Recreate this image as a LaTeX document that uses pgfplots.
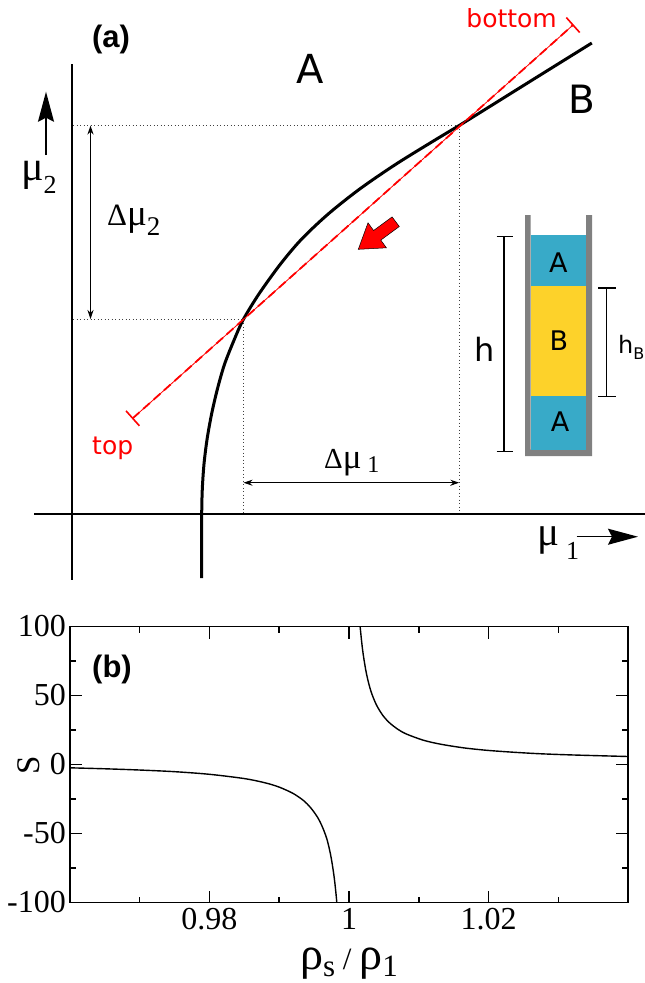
\documentclass[border=0pt]{standalone}
\usepackage{fontspec}
\setmainfont{Liberation Serif}
\newfontfamily\djv{DejaVu Sans}
\newfontfamily\ars{Liberation Sans}
\usepackage{pgfplots}
\pgfplotsset{compat=1.18}
\usetikzlibrary{arrows.meta}
\definecolor{boxcyan}{RGB}{56,170,200}
\definecolor{boxyellow}{RGB}{253,210,42}
\definecolor{wallgray}{RGB}{128,128,128}
\newcommand{\fs}[1]{\fontsize{#1}{#1}\selectfont}
\begin{document}
\begin{tikzpicture}
\useasboundingbox (0,0) rectangle (645pt,-983pt);
% ---------------- panel (a): schematic in pixel coordinates ----------------
\begin{axis}[at={(0pt,0pt)}, anchor=north west, scale only axis,
  width=645pt, height=600pt, xmin=0, xmax=645, ymin=0, ymax=600,
  y dir=reverse, hide axis, clip=false]
% axes
\addplot[black, line width=2pt] coordinates {(71.7,64) (71.7,580)};
\addplot[black, line width=2pt] coordinates {(34,514) (645,514)};
% dotted guides
\addplot[black!75, line width=0.9pt, dash pattern=on 1pt off 2.5pt] coordinates {(73,125) (460,125)};
\addplot[black!75, line width=0.9pt, dash pattern=on 1pt off 2.5pt] coordinates {(73,319.5) (243.3,319.5)};
\addplot[black!75, line width=0.9pt, dash pattern=on 1pt off 2.5pt] coordinates {(243,319.5) (243,513)};
\addplot[black!75, line width=0.9pt, dash pattern=on 1pt off 2.5pt] coordinates {(459.5,125) (459.5,513)};
% coexistence curve
\addplot[black, line width=3pt, smooth] coordinates {
(201.7,578) (201.7,545) (201.7,514) (202.3,489) (204.0,464) (207.1,439) (211.6,414)
(217.4,389) (224.6,364) (234.5,339) (243.3,319.5) (258.9,294) (280.5,264)
(301.7,239) (328.2,214) (359.7,189) (396.2,164) (436.7,139) (460,125)
(493.8,104) (535,78.3) (591.8,43)};
% red sedimentation path
\addplot[red, line width=0.8pt] coordinates {(132.7,418.3) (573,25)};
\addplot[red, line width=1.8pt, dash pattern=on 9pt off 5pt] coordinates {(132.7,418.3) (573,25)};
\addplot[red, line width=1.6pt] coordinates {(126,410.8) (139.4,425.8)};
\addplot[red, line width=1.6pt] coordinates {(566.3,17.5) (579.7,32.5)};
% red block arrow
\addplot[fill=red, draw=black, line width=0.5pt] coordinates {
(399.3,226.5) (392.1,216.9) (373.6,230.5) (368.0,222.8) (358.3,249.3) (386.4,247.8) (380.8,240.1)} -- cycle;
% delta arrows
\addplot[black, line width=1pt, {Stealth[length=9pt,width=6pt]}-{Stealth[length=9pt,width=6pt]}] coordinates {(90.5,125.5) (90.5,319)};
\addplot[black, line width=1pt, {Stealth[length=9pt,width=6pt]}-{Stealth[length=9pt,width=6pt]}] coordinates {(243.5,482.7) (459.3,482.7)};
% axis direction arrows
\addplot[black, line width=1.5pt, -{Stealth[length=30pt,width=16pt,inset=4pt]}] coordinates {(46,155) (46,91.7)};
\addplot[black, line width=1.5pt, -{Stealth[length=30pt,width=16pt,inset=4pt]}] coordinates {(576.7,536.7) (638,536.7)};
% container
\addplot[fill=wallgray, draw=none] coordinates {(525,215) (530.7,215) (530.7,449.5) (586,449.5) (586,215) (592,215) (592,456) (525,456)} -- cycle;
\addplot[fill=boxcyan, draw=none] coordinates {(530.7,235) (586,235) (586,286) (530.7,286)} -- cycle;
\addplot[fill=boxyellow, draw=none] coordinates {(530.7,286) (586,286) (586,396) (530.7,396)} -- cycle;
\addplot[fill=boxcyan, draw=none] coordinates {(530.7,396) (586,396) (586,449.5) (530.7,449.5)} -- cycle;
% height bars
\addplot[black, line width=1.5pt] coordinates {(504,236.7) (504,451.7)};
\addplot[black, line width=1.5pt] coordinates {(496.7,236.7) (513,236.7)};
\addplot[black, line width=1.5pt] coordinates {(496.7,451.7) (513,451.7)};
\addplot[black, line width=1.5pt] coordinates {(606.7,288) (606.7,396.7)};
\addplot[black, line width=1.5pt] coordinates {(598,288) (616,288)};
\addplot[black, line width=1.5pt] coordinates {(598,396.7) (616,396.7)};
% texts
\node[inner sep=0pt] at (axis cs:111,39.3) {\ars\bfseries\fs{31}(a)};
\node[inner sep=0pt] at (axis cs:112,669.5) {\ars\bfseries\fs{31}(b)};
\node[inner sep=0pt] at (axis cs:310.5,68.5) {\djv\fs{40}A};
\node[inner sep=0pt] at (axis cs:582,99) {\djv\fs{39}B};
\node[inner sep=0pt] at (axis cs:558.3,263) {\djv\fs{27}A};
\node[inner sep=0pt] at (axis cs:559,341) {\djv\fs{27}B};
\node[inner sep=0pt] at (axis cs:560,421.7) {\djv\fs{27}A};
\node[inner sep=0pt] at (axis cs:485,349.5) {\djv\fs{32}h};
\node[inner sep=0pt, anchor=base west] at (axis cs:618,353.3) {\djv\fs{24}h\raisebox{-6pt}{\fs{16}B}};
\node[inner sep=0pt, anchor=base west, text=red] at (axis cs:92,454) {\djv\fs{25}top};
\node[inner sep=0pt, anchor=base east, text=red] at (axis cs:557,27) {\djv\fs{25}bottom};
\node[inner sep=0pt, anchor=base west] at (axis cs:21,180.3) {\rmfamily\fs{42}μ\raisebox{-13pt}{\fs{26}2}};
\node[inner sep=0pt, anchor=base west] at (axis cs:107,225) {\rmfamily\fs{31}Δ\fs{37}μ\raisebox{-10pt}{\fs{27}2}};
\node[inner sep=0pt, anchor=base west] at (axis cs:324,468.3) {\rmfamily\fs{29}Δ\fs{35}μ\,\raisebox{-4pt}{\fs{24}1}};
\node[inner sep=0pt, anchor=base west] at (axis cs:537,545.8) {\rmfamily\fs{41}μ\,\raisebox{-14pt}{\fs{26}1}};
\node[inner sep=0pt, rotate=90] at (axis cs:29,765) {\rmfamily\fs{33}S};
\node[inner sep=0pt, anchor=base] at (axis cs:349,969) {\rmfamily\fs{46}ρ\raisebox{-7pt}{\fs{31}s}\fs{31} / \fs{46}ρ\raisebox{-7pt}{\fs{31}1}};
\end{axis}
% ---------------- panel (b) ----------------
\begin{axis}[at={(70pt,-626.5pt)}, anchor=north west, scale only axis,
  width=558pt, height=276pt,
  xmin=0.96, xmax=1.04, ymin=-100, ymax=100,
  xtick={0.98,1,1.02}, xticklabels={0.98,1,1.02},
  minor xtick={0.96,0.97,0.99,1.01,1.03,1.04},
  ytick={-100,-50,0,50,100}, yticklabels={-100,-50,0,50,100},
  minor ytick={-75,-25,25,75},
  tick align=inside, major tick length=12pt, minor tick length=6pt,
  axis line style={line width=1.8pt},
  every tick/.style={black, line width=1.5pt},
  tick label style={font=\rmfamily\fs{32}},
  xticklabel style={inner sep=6pt},
  yticklabel style={inner sep=4pt},
  clip=true]
\addplot[black, line width=1.4pt, smooth] coordinates {
(0.96,-2.4) (0.965,-3.1) (0.97,-4.0) (0.975,-5.2) (0.98,-7.1) (0.985,-10.2)
(0.988,-13.3) (0.99,-16.4) (0.992,-21.0) (0.9935,-26.2) (0.9945,-31.3)
(0.9955,-38.3) (0.9962,-45.4) (0.9968,-53.5) (0.9972,-61.5) (0.9975,-69.2)
(0.9978,-78.9) (0.998,-87.0) (0.9982,-97.0) (0.99835,-106)};
\addplot[black, line width=1.4pt, smooth] coordinates {
(1.00152,104.4) (1.00158,100.8) (1.00182,88.7) (1.00205,79.4) (1.00239,68.8)
(1.00277,59.9) (1.00325,51.5) (1.00397,42.8) (1.00492,35.1) (1.00588,29.9)
(1.00707,25.3) (1.00827,22.0) (1.01066,17.6) (1.01305,14.8) (1.01639,12.1)
(1.01974,10.3) (1.02356,8.9) (1.02738,7.8) (1.03216,6.9) (1.04,5.8)};
\end{axis}
\end{tikzpicture}
\end{document}
